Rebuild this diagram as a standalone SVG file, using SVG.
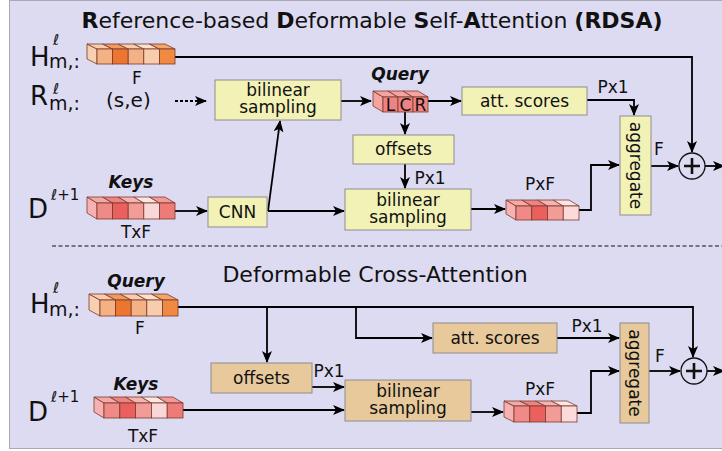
<svg xmlns="http://www.w3.org/2000/svg" width="722" height="451" viewBox="0 0 722 451">
  <defs>
    <marker id="arr" viewBox="0 0 12 10" refX="11" refY="5" markerWidth="12" markerHeight="10" markerUnits="userSpaceOnUse" orient="auto">
      <path d="M0,0 L12,5 L0,10 L3,5 z" fill="#000"/>
    </marker>
    <style>
      text { font-family: "DejaVu Sans", Verdana, sans-serif; fill: #111; }
      .title { font-size: 22px; text-anchor: middle; }
      .b { font-weight: bold; }
      .lbl { font-size: 17px; text-anchor: middle; }
      .tag { font-size: 17px; font-weight: bold; font-style: italic; text-anchor: middle; }
      .bt { font-size: 17px; text-anchor: middle; }
      .sym { font-size: 26px; }
      .sup { font-size: 15px; }
      .sub { font-size: 19px; }
      .yel { fill: #f3f2b6; stroke: #8c8c8c; stroke-width: 1; }
      .tan { fill: #e7c99b; stroke: #8c8c8c; stroke-width: 1; }
      .wire { fill: none; stroke: #000; stroke-width: 1.8; }
      .arrow { marker-end: url(#arr); }
      .cell { stroke: #7a3a2c; stroke-width: 0.8; }
    </style>
  </defs>

  <!-- background panel -->
  <rect x="9.5" y="0.5" width="720" height="448" fill="#dddbf2" stroke="#a9a9b4" stroke-width="1"/>

  <!-- section titles -->
  <text class="title" x="372" y="28"><tspan class="b">R</tspan>eference-based <tspan class="b">D</tspan>eformable <tspan class="b">S</tspan>elf-<tspan class="b">A</tspan>ttention <tspan class="b">(RDSA)</tspan></text>
  <line x1="52" y1="246" x2="722" y2="246" stroke="#555" stroke-width="1.6" stroke-dasharray="4 2.5"/>
  <text class="title" x="375" y="282">Deformable Cross-Attention</text>

  <!-- connectors -->
  <g id="connectors">
    <!-- RDSA -->
    <path class="wire arrow" d="M175,57 H692 V152"/>
    <path class="wire arrow" d="M175,101 H206" stroke-dasharray="3 2"/>
    <path class="wire arrow" d="M341,101 H371"/>
    <path class="wire arrow" d="M428,101 H461"/>
    <path class="wire arrow" d="M587,100 H634 V115"/>
    <path class="wire arrow" d="M405,112 V134"/>
    <path class="wire arrow" d="M405,164 V188"/>
    <path class="wire arrow" d="M175,211 H207"/>
    <path class="wire arrow" d="M268,211 L280,121"/>
    <path class="wire arrow" d="M268,211 H344"/>
    <path class="wire arrow" d="M471,209 H505"/>
    <path class="wire arrow" d="M579,210 H591 V165 H619"/>
    <path class="wire arrow" d="M651,166 H678"/>
    <path class="wire arrow" d="M705,166 H724"/>
    <!-- cross-attention -->
    <path class="wire arrow" d="M178,307 H693 V357"/>
    <path class="wire arrow" d="M267,307 V362"/>
    <path class="wire arrow" d="M356,307 V338 H432"/>
    <path class="wire arrow" d="M557,338 H619"/>
    <path class="wire arrow" d="M312,387 H344"/>
    <path class="wire arrow" d="M183,410 H344"/>
    <path class="wire arrow" d="M471,412 H503"/>
    <path class="wire arrow" d="M577,413 H591 V371 H619"/>
    <path class="wire arrow" d="M649,371 H680"/>
    <path class="wire arrow" d="M707,371 H724"/>
  </g>

  <!-- RDSA nodes -->
  <g id="h-label-top">
    <text class="sym" x="30" y="66">H</text>
    <text class="sup" x="53" y="45" font-style="italic">ℓ</text>
    <text class="sub" x="49" y="68">m,:</text>
  </g>
  <g id="query-top" transform="translate(97,49)">
    <polygon class="cell" points="0,0 0,15 -10,10 -10,-5" fill="#f8cfb0"/>
    <polygon class="cell" points="0,0 15.6,0 5.6,-5 -10,-5" fill="#f8cdae"/>
    <polygon class="cell" points="15.6,0 31.2,0 21.2,-5 5.6,-5" fill="#f09a5c"/>
    <polygon class="cell" points="31.2,0 46.8,0 36.8,-5 21.2,-5" fill="#f8cdae"/>
    <polygon class="cell" points="46.8,0 62.4,0 52.4,-5 36.8,-5" fill="#fbe1cf"/>
    <polygon class="cell" points="62.4,0 78,0 68,-5 52.4,-5" fill="#f4a56c"/>
    <rect class="cell" x="0" y="0" width="15.6" height="15" fill="#f4b183"/>
    <rect class="cell" x="15.6" y="0" width="15.6" height="15" fill="#ec7530"/>
    <rect class="cell" x="31.2" y="0" width="15.6" height="15" fill="#f4b183"/>
    <rect class="cell" x="46.8" y="0" width="15.6" height="15" fill="#f8cdae"/>
    <rect class="cell" x="62.4" y="0" width="15.6" height="15" fill="#f08a42"/>
  </g>
  <text class="lbl" x="137" y="84">F</text>

  <g id="r-label">
    <text class="sym" x="30" y="105">R</text>
    <text class="sup" x="53" y="94" font-style="italic">ℓ</text>
    <text class="sub" x="49" y="110">m,:</text>
  </g>
  <text id="span-se" x="106" y="107" font-size="20">(s,e)</text>

  <g id="bilinear-top">
    <rect class="yel" x="215" y="80" width="126" height="40"/>
    <text class="bt" x="278" y="96">bilinear</text>
    <text class="bt" x="278" y="113">sampling</text>
  </g>

  <g id="query-lcr">
    <text class="tag" x="400" y="80">Query</text>
    <g transform="translate(383,97)">
      <polygon class="cell" points="0,0 0,15 -10,9 -10,-6" fill="#f4a3a1"/>
      <polygon class="cell" points="0,0 15,0 5,-6 -10,-6" fill="#f4a3a1"/>
      <polygon class="cell" points="15,0 30,0 20,-6 5,-6" fill="#f4a3a1"/>
      <polygon class="cell" points="30,0 45,0 35,-6 20,-6" fill="#f4a3a1"/>
      <rect class="cell" x="0" y="0" width="15" height="15" fill="#ef8282"/>
      <rect class="cell" x="15" y="0" width="15" height="15" fill="#ef8282"/>
      <rect class="cell" x="30" y="0" width="15" height="15" fill="#ef8282"/>
      <text x="7.5" y="14" font-size="17" text-anchor="middle">L</text>
      <text x="22.5" y="14" font-size="17" text-anchor="middle">C</text>
      <text x="37.5" y="14" font-size="17" text-anchor="middle">R</text>
    </g>
  </g>

  <g id="att-scores-top">
    <rect class="yel" x="462" y="87" width="125" height="28"/>
    <text class="bt" x="524.5" y="107">att. scores</text>
  </g>
  <text class="lbl" x="613" y="93">Px1</text>

  <g id="offsets-top">
    <rect class="yel" x="353" y="135" width="101" height="29"/>
    <text class="bt" x="403.5" y="155">offsets</text>
  </g>
  <text class="lbl" x="430" y="184">Px1</text>

  <g id="bilinear-mid">
    <rect class="yel" x="345" y="189" width="126" height="41"/>
    <text class="bt" x="408" y="206">bilinear</text>
    <text class="bt" x="408" y="223">sampling</text>
  </g>

  <g id="cnn">
    <rect class="yel" x="208" y="197" width="59" height="30"/>
    <text class="bt" x="237.5" y="218">CNN</text>
  </g>

  <g id="d-label-top">
    <text class="sym" x="28" y="218">D</text>
    <text class="sup" x="51" y="200"><tspan font-style="italic">ℓ</tspan>+1</text>
  </g>
  <g id="keys-top">
    <text class="tag" x="131" y="188">Keys</text>
    <g transform="translate(97,203)">
      <polygon class="cell" points="0,0 0,16 -10,10 -10,-6" fill="#f6b2b0"/>
      <polygon class="cell" points="0,0 15.6,0 5.6,-6 -10,-6" fill="#f4a9a7"/>
      <polygon class="cell" points="15.6,0 31.2,0 21.2,-6 5.6,-6" fill="#ee8481"/>
      <polygon class="cell" points="31.2,0 46.8,0 36.8,-6 21.2,-6" fill="#f5b4b1"/>
      <polygon class="cell" points="46.8,0 62.4,0 52.4,-6 36.8,-6" fill="#fce6e5"/>
      <polygon class="cell" points="62.4,0 78,0 68,-6 52.4,-6" fill="#f29b98"/>
      <rect class="cell" x="0" y="0" width="15.6" height="16" fill="#f08a88"/>
      <rect class="cell" x="15.6" y="0" width="15.6" height="16" fill="#e9605c"/>
      <rect class="cell" x="31.2" y="0" width="15.6" height="16" fill="#f29c98"/>
      <rect class="cell" x="46.8" y="0" width="15.6" height="16" fill="#f9d7d6"/>
      <rect class="cell" x="62.4" y="0" width="15.6" height="16" fill="#ee7b78"/>
    </g>
    <text class="lbl" x="136" y="238">TxF</text>
  </g>

  <g id="pxf-top">
    <text class="lbl" x="540" y="190">PxF</text>
    <g transform="translate(516,206)">
      <polygon class="cell" points="0,0 0,14 -10,8 -10,-6" fill="#f6b2b0"/>
      <polygon class="cell" points="0,0 15.75,0 5.75,-6 -10,-6" fill="#f4a9a7"/>
      <polygon class="cell" points="15.75,0 31.5,0 21.5,-6 5.75,-6" fill="#ee8481"/>
      <polygon class="cell" points="31.5,0 47.25,0 37.25,-6 21.5,-6" fill="#f5b4b1"/>
      <polygon class="cell" points="47.25,0 63,0 53,-6 37.25,-6" fill="#fce6e5"/>
      <rect class="cell" x="0" y="0" width="15.75" height="14" fill="#f08a88"/>
      <rect class="cell" x="15.75" y="0" width="15.75" height="14" fill="#e9605c"/>
      <rect class="cell" x="31.5" y="0" width="15.75" height="14" fill="#f29c98"/>
      <rect class="cell" x="47.25" y="0" width="15.75" height="14" fill="#fbdad9"/>
    </g>
  </g>

  <g id="aggregate-top">
    <rect class="yel" x="620" y="116" width="31" height="99"/>
    <text class="bt" transform="translate(629.5,165.5) rotate(90)">aggregate</text>
  </g>
  <text class="lbl" x="659" y="155">F</text>

  <g id="sum-top">
    <circle cx="692" cy="166" r="13" fill="none" stroke="#111" stroke-width="1.3"/>
    <path d="M684,166 H700 M692,158 V174" stroke="#111" stroke-width="2.6"/>
  </g>

  <!-- cross-attention nodes -->
  <g id="h-label-bottom">
    <text class="sym" x="30" y="313">H</text>
    <text class="sup" x="53" y="293" font-style="italic">ℓ</text>
    <text class="sub" x="49" y="316">m,:</text>
  </g>
  <g id="query-bottom">
    <text class="tag" x="136" y="287">Query</text>
    <g transform="translate(100,300)">
      <polygon class="cell" points="0,0 0,16 -11,10 -11,-6" fill="#f8cfb0"/>
      <polygon class="cell" points="0,0 15.6,0 4.6,-6 -11,-6" fill="#f8cdae"/>
      <polygon class="cell" points="15.6,0 31.2,0 20.2,-6 4.6,-6" fill="#f09a5c"/>
      <polygon class="cell" points="31.2,0 46.8,0 35.8,-6 20.2,-6" fill="#f8cdae"/>
      <polygon class="cell" points="46.8,0 62.4,0 51.4,-6 35.8,-6" fill="#fbe1cf"/>
      <polygon class="cell" points="62.4,0 78,0 67,-6 51.4,-6" fill="#f4a56c"/>
      <rect class="cell" x="0" y="0" width="15.6" height="16" fill="#f4b183"/>
      <rect class="cell" x="15.6" y="0" width="15.6" height="16" fill="#ec7530"/>
      <rect class="cell" x="31.2" y="0" width="15.6" height="16" fill="#f4b183"/>
      <rect class="cell" x="46.8" y="0" width="15.6" height="16" fill="#f8cdae"/>
      <rect class="cell" x="62.4" y="0" width="15.6" height="16" fill="#f08a42"/>
    </g>
    <text class="lbl" x="140" y="334">F</text>
  </g>

  <g id="att-scores-bottom">
    <rect class="tan" x="433" y="323" width="124" height="30"/>
    <text class="bt" x="495" y="344">att. scores</text>
  </g>
  <text class="lbl" x="587" y="332">Px1</text>

  <g id="offsets-bottom">
    <rect class="tan" x="211" y="363" width="101" height="30"/>
    <text class="bt" x="261.5" y="384">offsets</text>
  </g>
  <text class="lbl" x="329" y="377">Px1</text>

  <g id="bilinear-bottom">
    <rect class="tan" x="345" y="380" width="126" height="41"/>
    <text class="bt" x="408" y="397">bilinear</text>
    <text class="bt" x="408" y="414">sampling</text>
  </g>

  <g id="d-label-bottom">
    <text class="sym" x="28" y="421">D</text>
    <text class="sup" x="51" y="402"><tspan font-style="italic">ℓ</tspan>+1</text>
  </g>
  <g id="keys-bottom">
    <text class="tag" x="136" y="390">Keys</text>
    <g transform="translate(104,403)">
      <polygon class="cell" points="0,0 0,15 -10,9 -10,-6" fill="#f6b2b0"/>
      <polygon class="cell" points="0,0 15.8,0 5.8,-6 -10,-6" fill="#f4a9a7"/>
      <polygon class="cell" points="15.8,0 31.6,0 21.6,-6 5.8,-6" fill="#ee8481"/>
      <polygon class="cell" points="31.6,0 47.4,0 37.4,-6 21.6,-6" fill="#f5b4b1"/>
      <polygon class="cell" points="47.4,0 63.2,0 53.2,-6 37.4,-6" fill="#fce6e5"/>
      <polygon class="cell" points="63.2,0 79,0 69,-6 53.2,-6" fill="#f29b98"/>
      <rect class="cell" x="0" y="0" width="15.8" height="15" fill="#f08a88"/>
      <rect class="cell" x="15.8" y="0" width="15.8" height="15" fill="#e9605c"/>
      <rect class="cell" x="31.6" y="0" width="15.8" height="15" fill="#f29c98"/>
      <rect class="cell" x="47.4" y="0" width="15.8" height="15" fill="#f9d7d6"/>
      <rect class="cell" x="63.2" y="0" width="15.8" height="15" fill="#ee7b78"/>
    </g>
    <text class="lbl" x="143" y="442">TxF</text>
  </g>

  <g id="pxf-bottom">
    <text class="lbl" x="540" y="395">PxF</text>
    <g transform="translate(514,406)">
      <polygon class="cell" points="0,0 0,16 -10,11 -10,-5" fill="#f6b2b0"/>
      <polygon class="cell" points="0,0 15.75,0 5.75,-5 -10,-5" fill="#f4a9a7"/>
      <polygon class="cell" points="15.75,0 31.5,0 21.5,-5 5.75,-5" fill="#ee8481"/>
      <polygon class="cell" points="31.5,0 47.25,0 37.25,-5 21.5,-5" fill="#f5b4b1"/>
      <polygon class="cell" points="47.25,0 63,0 53,-5 37.25,-5" fill="#fce6e5"/>
      <rect class="cell" x="0" y="0" width="15.75" height="16" fill="#f08a88"/>
      <rect class="cell" x="15.75" y="0" width="15.75" height="16" fill="#e9605c"/>
      <rect class="cell" x="31.5" y="0" width="15.75" height="16" fill="#f29c98"/>
      <rect class="cell" x="47.25" y="0" width="15.75" height="16" fill="#fbdad9"/>
    </g>
  </g>

  <g id="aggregate-bottom">
    <rect class="tan" x="620" y="323" width="29" height="100"/>
    <text class="bt" transform="translate(628.5,373) rotate(90)">aggregate</text>
  </g>
  <text class="lbl" x="660" y="362">F</text>

  <g id="sum-bottom">
    <circle cx="694" cy="371" r="13" fill="none" stroke="#111" stroke-width="1.3"/>
    <path d="M686,371 H702 M694,363 V379" stroke="#111" stroke-width="2.6"/>
  </g>
</svg>
